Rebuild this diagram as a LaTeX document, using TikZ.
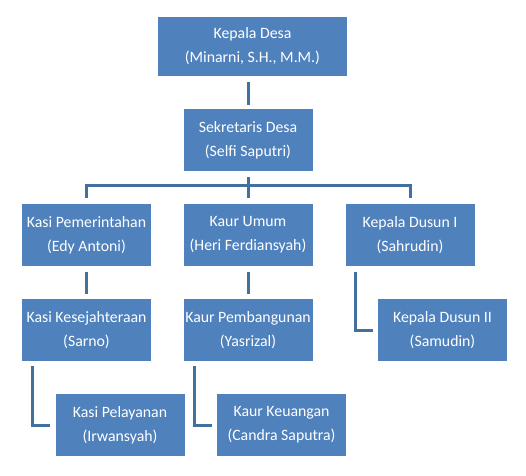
\documentclass[tikz,border=0pt]{standalone}
\usepackage{fontspec}
\setmainfont{Carlito}
\definecolor{boxblue}{HTML}{4F81BD}
\definecolor{lineblue}{HTML}{41719C}
\begin{document}
\begin{tikzpicture}[
		x=1pt, y=-1pt,
		unit/.style={fill=boxblue, minimum width=129pt, minimum height=62pt,
		inner sep=0pt, align=center, text=white, font=\fontsize{15.8}{24}\selectfont},
		topunit/.style={unit, minimum width=189pt, minimum height=59pt},
		link/.style={draw=lineblue, line width=3pt, shorten <=6pt, shorten >=5pt}
	]
		\useasboundingbox (0,0) rectangle (526,475);
		% y tiap tingkat
		\def\ya{46.5}
		\def\yb{140}
		\def\yc{235}
		\def\yd{330}
		\def\ye{425}

		% pimpinan
		\node[topunit] (kdesa) at (252.5,\ya) {Kepala Desa\\(Minarni, S.H., M.M.)};
		\node[unit] (sekdes) at (248,\yb) {Sekretaris Desa\\(Selfi Saputri)};

		% tingkat kasi / kaur / dusun
		\node[unit] (kpem)  at (86.5,\yc) {Kasi Pemerintahan\\(Edy Antoni)};
		\node[unit] (kumum) at (248,\yc)  {Kaur Umum\\(Heri Ferdiansyah)};
		\node[unit] (kdus1) at (410,\yc)  {Kepala Dusun I\\(Sahrudin)};

		\node[unit] (kkes)  at (86.5,\yd) {Kasi Kesejahteraan\\(Sarno)};
		\node[unit] (kpemb) at (248,\yd)  {Kaur Pembangunan\\(Yasrizal)};
		\node[unit] (kdus2) at (442.5,\yd) {Kepala Dusun II\\(Samudin)};

		\node[unit] (kpel) at (120,\ye)   {Kasi Pelayanan\\(Irwansyah)};
		\node[unit] (kkeu) at (281.5,\ye) {Kaur Keuangan\\(Candra Saputra)};

		% garis hubungan
		\coordinate (bus) at (248,185);
		\draw[link, shorten >=4pt] (sekdes.north |- kdesa.south) -- (sekdes.north);
		\draw[link, shorten >=0pt] (sekdes.south) -- (bus);
		\draw[link, shorten >=6pt] (kpem.north) |- (bus -| kdus1.north) -- (kdus1.north);
		\draw[link, shorten <=0pt, shorten >=6pt] (bus) -- (kumum.north);
		\draw[link] (kpem.south) -- (kkes.north);
		\draw[link] (kumum.south) -- (kpemb.north);
		\draw[link, shorten <=5pt] ([xshift=11pt]kkes.south west) |- (kpel.west);
		\draw[link, shorten <=5pt] ([xshift=11pt]kpemb.south west) |- (kkeu.west);
		\draw[link] ([xshift=10pt]kdus1.south west) |- (kdus2.west);
	\end{tikzpicture}
\end{document}
